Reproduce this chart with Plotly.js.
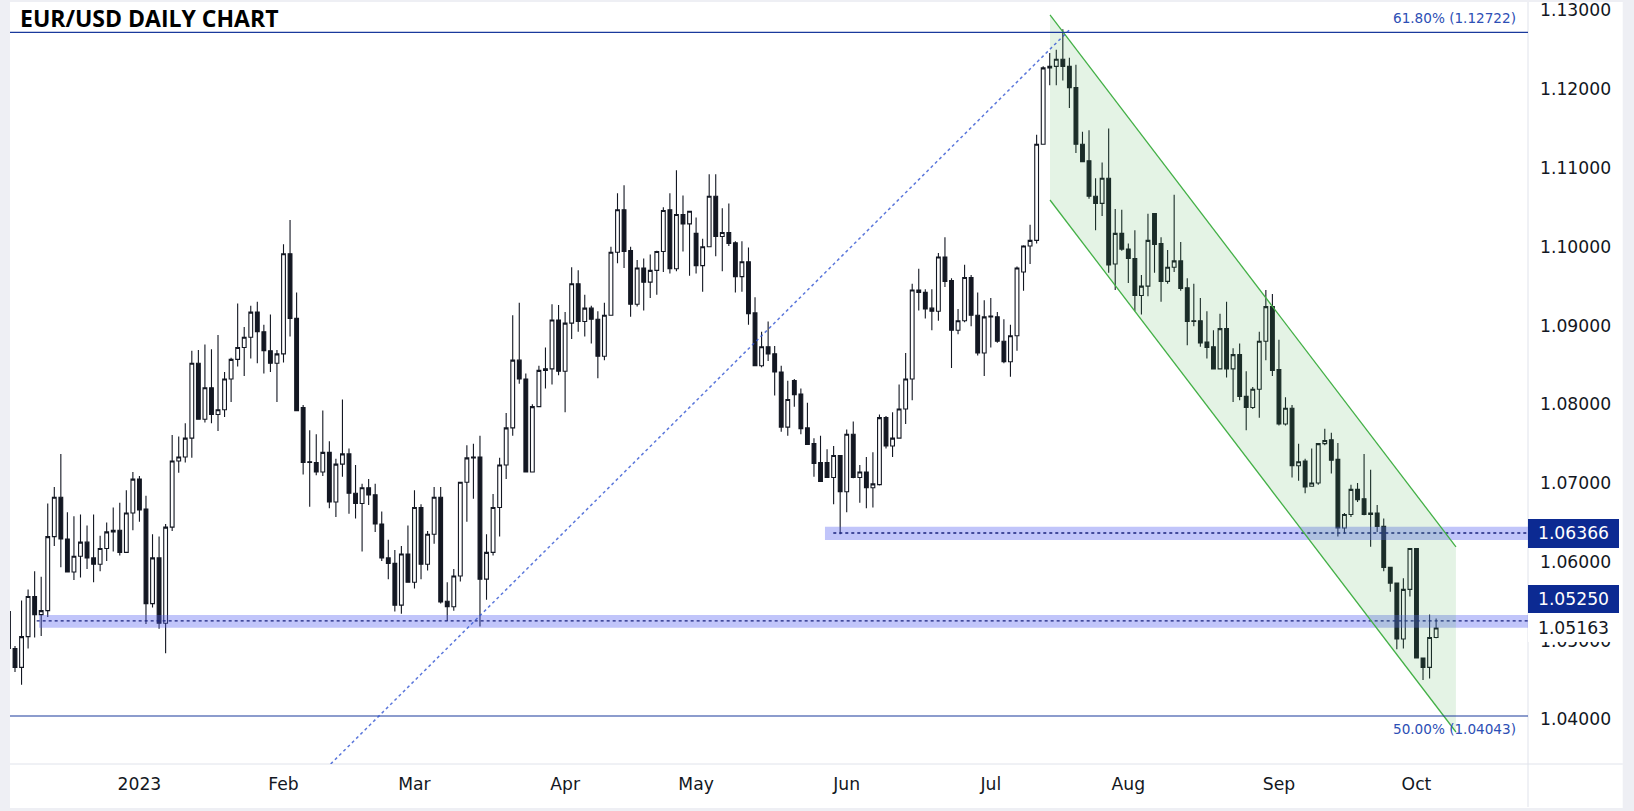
<!DOCTYPE html>
<html>
<head>
<meta charset="utf-8">
<script src="https://cdn.plot.ly/plotly-3.0.1.min.js"></script>
<style>html,body{margin:0;padding:0;background:#eeeff4;}#chart{width:1634px;height:811px;}</style>
</head>
<body>
<div id="chart"></div>
<script>
// ---- DATA (EUR/USD daily) ----
const firstDay = '2022-12-05';
const open = [1.0537,
1.0490,1.0466,1.0505,1.0556,1.0533,1.0538,1.0632,1.0682,1.0629,1.0587,
1.0607,1.0625,1.0605,1.0597,1.0617,1.0638,1.0640,1.0612,1.0662,1.0705,
1.0667,1.0547,1.0605,1.0522,1.0644,1.0728,1.0733,1.0757,1.0852,1.0781,
1.0821,1.0787,1.0793,1.0832,1.0857,1.0872,1.0885,1.0917,1.0892,1.0868,
1.0852,1.0864,1.0991,1.0909,1.0796,1.0727,1.0726,1.0714,1.0739,1.0676,
1.0724,1.0737,1.0687,1.0674,1.0694,1.0685,1.0648,1.0605,1.0598,1.0545,
1.0610,1.0574,1.0669,1.0597,1.0635,1.0682,1.0550,1.0543,1.0582,1.0701,
1.0733,1.0733,1.0578,1.0612,1.0669,1.0723,1.0770,1.0856,1.0832,1.0714,
1.0797,1.0845,1.0845,1.0907,1.0842,1.0903,1.0953,1.0905,1.0922,1.0908,
1.0861,1.0913,1.0993,1.1047,1.0995,1.0927,1.0973,1.0955,1.0970,1.0994,
1.1047,1.0972,1.1041,1.1029,1.1017,1.0976,1.1000,1.1064,1.1013,1.1018,
1.1005,1.0962,1.0981,1.0916,1.0849,1.0873,1.0864,1.0841,1.0771,1.0830,
1.0813,1.0770,1.0750,1.0726,1.0726,1.0707,1.0735,1.0689,1.0762,1.0707,
1.0714,1.0694,1.0698,1.0783,1.0747,1.0757,1.0794,1.0832,1.0945,1.0942,
1.0922,1.0918,1.0987,1.0957,1.0894,1.0906,1.0961,1.0913,1.0865,1.0912,
1.0911,1.0880,1.0854,1.0887,1.0968,1.1001,1.1008,1.1130,1.1227,1.1229,
1.1238,1.1229,1.1202,1.1130,1.1109,1.1064,1.1055,1.1087,1.0978,1.1017,
1.0997,1.0985,1.0938,1.0950,1.1042,1.1004,1.0956,1.0974,1.0982,1.0948,
1.0906,1.0906,1.0879,1.0873,1.0845,1.0896,1.0845,1.0863,1.0810,1.0796,
1.0819,1.0880,1.0924,1.0844,1.0775,1.0795,1.0722,1.0728,1.0696,1.0700,
1.0750,1.0755,1.0730,1.0643,1.0660,1.0692,1.0680,1.0662,1.0662,1.0645,
1.0593,1.0573,1.0502,1.0565,1.0617,1.0478,1.0466,1.0504];
const high = [1.0595,
1.0493,1.0551,1.0565,1.0588,1.0581,1.0674,1.0695,1.0737,1.0663,1.0658,
1.0660,1.0646,1.0660,1.0633,1.0650,1.0669,1.0675,1.0691,1.0714,1.0709,
1.0684,1.0635,1.0632,1.0648,1.0761,1.0759,1.0776,1.0868,1.0869,1.0876,
1.0870,1.0888,1.0841,1.0859,1.0928,1.0898,1.0925,1.0930,1.0901,1.0914,
1.0869,1.1003,1.1034,1.0942,1.0799,1.0767,1.0762,1.0792,1.0753,1.0731,
1.0806,1.0744,1.0723,1.0699,1.0705,1.0699,1.0664,1.0628,1.0615,1.0620,
1.0646,1.0691,1.0673,1.0639,1.0695,1.0695,1.0574,1.0591,1.0701,1.0748,
1.0750,1.0760,1.0635,1.0686,1.0732,1.0789,1.0913,1.0929,1.0839,1.0800,
1.0849,1.0872,1.0927,1.0926,1.0917,1.0974,1.0970,1.0939,1.0925,1.0918,
1.0929,1.1000,1.1068,1.1078,1.1000,1.0983,1.0985,1.0990,1.0995,1.1050,
1.1068,1.1097,1.1065,1.1045,1.1037,1.1010,1.1092,1.1092,1.1049,1.1055,
1.1007,1.1007,1.0999,1.0936,1.0892,1.0905,1.0874,1.0849,1.0830,1.0832,
1.0820,1.0802,1.0757,1.0760,1.0743,1.0747,1.0735,1.0768,1.0778,1.0723,
1.0733,1.0739,1.0787,1.0785,1.0790,1.0825,1.0865,1.0953,1.0972,1.0946,
1.0946,1.0992,1.1012,1.0960,1.0921,1.0977,1.0964,1.0942,1.0932,1.0935,
1.0917,1.0908,1.0901,1.0975,1.1002,1.1028,1.1142,1.1229,1.1246,1.1250,
1.1276,1.1240,1.1231,1.1146,1.1148,1.1087,1.1107,1.1150,1.1048,1.1047,
1.1004,1.1021,1.0964,1.1042,1.1042,1.1012,1.0996,1.1066,1.1006,1.0960,
1.0953,1.0935,1.0918,1.0894,1.0915,1.0930,1.0871,1.0877,1.0842,1.0822,
1.0892,1.0945,1.0940,1.0882,1.0809,1.0799,1.0750,1.0731,1.0744,1.0751,
1.0769,1.0764,1.0751,1.0662,1.0698,1.0700,1.0737,1.0717,1.0672,1.0655,
1.0593,1.0573,1.0579,1.0617,1.0617,1.0478,1.0533,1.0528];
const low = [1.0485,
1.0460,1.0444,1.0490,1.0504,1.0506,1.0530,1.0620,1.0593,1.0587,1.0577,
1.0580,1.0591,1.0574,1.0588,1.0601,1.0613,1.0608,1.0612,1.0640,1.0651,
1.0521,1.0542,1.0515,1.0484,1.0639,1.0713,1.0726,1.0732,1.0781,1.0777,
1.0776,1.0766,1.0784,1.0803,1.0848,1.0836,1.0858,1.0852,1.0839,1.0841,
1.0803,1.0853,1.0886,1.0792,1.0711,1.0670,1.0710,1.0709,1.0668,1.0657,
1.0708,1.0661,1.0655,1.0613,1.0672,1.0638,1.0601,1.0578,1.0537,1.0534,
1.0574,1.0566,1.0578,1.0589,1.0623,1.0547,1.0525,1.0538,1.0575,1.0651,
1.0680,1.0518,1.0552,1.0608,1.0632,1.0705,1.0760,1.0826,1.0714,1.0714,
1.0797,1.0820,1.0825,1.0837,1.0790,1.0883,1.0892,1.0886,1.0877,1.0833,
1.0856,1.0913,1.0979,1.0973,1.0911,1.0924,1.0919,1.0935,1.0939,1.0968,
1.0966,1.0969,1.0994,1.0963,1.0966,1.0943,1.1000,1.0988,1.0969,1.1001,
1.0942,1.0943,1.0901,1.0849,1.0847,1.0855,1.0811,1.0765,1.0760,1.0797,
1.0762,1.0749,1.0708,1.0702,1.0707,1.0673,1.0635,1.0663,1.0706,1.0675,
1.0668,1.0669,1.0697,1.0744,1.0733,1.0757,1.0775,1.0805,1.0919,1.0909,
1.0894,1.0906,1.0949,1.0846,1.0889,1.0904,1.0899,1.0862,1.0836,1.0872,
1.0878,1.0852,1.0835,1.0868,1.0944,1.0978,1.1004,1.1130,1.1205,1.1205,
1.1211,1.1176,1.1119,1.1108,1.1061,1.1021,1.1039,1.0967,1.0945,1.0995,
1.0954,1.0918,1.0914,1.0937,1.0967,1.0930,1.0953,1.0968,1.0944,1.0875,
1.0899,1.0873,1.0858,1.0845,1.0845,1.0834,1.0803,1.0805,1.0767,1.0794,
1.0783,1.0856,1.0836,1.0773,1.0773,1.0707,1.0703,1.0687,1.0696,1.0698,
1.0748,1.0712,1.0632,1.0636,1.0657,1.0676,1.0659,1.0619,1.0638,1.0588,
1.0562,1.0489,1.0490,1.0556,1.0478,1.0450,1.0452,1.0503];
const close = [1.0490,
1.0466,1.0505,1.0556,1.0533,1.0538,1.0632,1.0682,1.0629,1.0587,1.0607,
1.0625,1.0605,1.0597,1.0617,1.0638,1.0640,1.0612,1.0662,1.0705,1.0666,
1.0547,1.0605,1.0522,1.0644,1.0728,1.0733,1.0757,1.0852,1.0781,1.0821,
1.0787,1.0793,1.0832,1.0857,1.0872,1.0885,1.0917,1.0892,1.0868,1.0852,
1.0864,1.0991,1.0909,1.0792,1.0726,1.0726,1.0714,1.0739,1.0676,1.0724,
1.0737,1.0687,1.0674,1.0694,1.0685,1.0648,1.0605,1.0598,1.0545,1.0610,
1.0574,1.0669,1.0597,1.0635,1.0682,1.0549,1.0543,1.0582,1.0701,1.0732,
1.0732,1.0578,1.0612,1.0669,1.0723,1.0770,1.0856,1.0832,1.0714,1.0797,
1.0843,1.0843,1.0907,1.0842,1.0903,1.0953,1.0905,1.0922,1.0908,1.0861,
1.0913,1.0993,1.1047,1.0994,1.0927,1.0973,1.0955,1.0970,1.0994,1.1046,
1.0972,1.1041,1.1029,1.1045,1.0976,1.1000,1.1064,1.1013,1.1018,1.1004,
1.0962,1.0981,1.0915,1.0849,1.0873,1.0864,1.0841,1.0771,1.0806,1.0812,
1.0769,1.0749,1.0725,1.0702,1.0707,1.0735,1.0689,1.0762,1.0707,1.0714,
1.0694,1.0699,1.0783,1.0747,1.0757,1.0794,1.0832,1.0945,1.0942,1.0921,
1.0918,1.0987,1.0956,1.0894,1.0906,1.0961,1.0913,1.0865,1.0911,1.0911,
1.0880,1.0854,1.0887,1.0973,1.1001,1.1008,1.1130,1.1227,1.1229,1.1238,
1.1229,1.1202,1.1130,1.1108,1.1064,1.1055,1.1087,1.0977,1.1017,1.0997,
1.0985,1.0938,1.0950,1.1008,1.1003,1.0956,1.0974,1.0982,1.0947,1.0905,
1.0905,1.0878,1.0872,1.0845,1.0896,1.0845,1.0863,1.0810,1.0796,1.0819,
1.0880,1.0924,1.0843,1.0775,1.0795,1.0722,1.0727,1.0695,1.0700,1.0750,
1.0754,1.0729,1.0643,1.0660,1.0692,1.0679,1.0660,1.0660,1.0645,1.0593,
1.0573,1.0502,1.0565,1.0617,1.0478,1.0466,1.0504,1.0516];

const monthTickDates = ['2023-01-02','2023-02-01','2023-03-01','2023-04-03','2023-05-01','2023-06-01','2023-07-03','2023-08-01','2023-09-01','2023-10-02'];
const monthTickText = ['2023','Feb','Mar','Apr','May','Jun','Jul','Aug','Sep','Oct'];
const priceTicks = [1.04,1.05,1.06,1.07,1.08,1.09,1.10,1.11,1.12,1.13];
const supportLevels = [1.06366, 1.0525];
const lastPrice = 1.05163;
const fibLevels = [1.12722, 1.04043];
const fibLabels = ['61.80% (1.12722)', '50.00% (1.04043)'];

// trading-day calendar (weekdays) for the category axis
function tradingDays(start, n) {
  const out = [];
  const d = new Date(start + 'T00:00:00Z');
  while (out.length < n) {
    const w = d.getUTCDay();
    if (w !== 0 && w !== 6) out.push(d.toISOString().slice(0, 10));
    d.setUTCDate(d.getUTCDate() + 1);
  }
  return out;
}
const dates = tradingDays(firstDay, open.length);

const INK = '#131722';
const FONT = 'DejaVu Sans, Verdana, sans-serif';
const AXFS = 17.2;

const trace = {
  type: 'candlestick',
  x: dates, open: open, high: high, low: low, close: close,
  increasing: {line: {color: INK, width: 1.1}, fillcolor: '#ffffff'},
  decreasing: {line: {color: INK, width: 1.1}, fillcolor: INK},
  whiskerwidth: 0,
  hoverinfo: 'none'
};

const XR = [0.237, 232.03];
const YR = [1.034336, 1.131066];

const bandColor = 'rgba(84,94,240,0.36)';
const dotColor = '#1a237e';
const green = '#43b046';

const shapes = [
  {type:'rect', xref:'paper', yref:'paper', x0:0, x1:1.0624, y0:-0.0577, y1:1, fillcolor:'#ffffff', line:{width:0}, layer:'below'},
  {type:'line', xref:'paper', yref:'paper', x0:1, x1:1, y0:-0.0564, y1:1, line:{color:'#e0e3eb', width:1}, layer:'below'},
  {type:'line', xref:'paper', yref:'paper', x0:0, x1:1.0624, y0:0, y1:0, line:{color:'#e0e3eb', width:1}, layer:'below'},
  {type:'rect', xref:'x', yref:'y', x0:4.665, x1:XR[1], y0:1.05164, y1:1.05326, fillcolor:bandColor, line:{width:0}, layer:'above'},
  {type:'rect', xref:'x', yref:'y', x0:124.68, x1:XR[1], y0:1.06277, y1:1.06445, fillcolor:bandColor, line:{width:0}, layer:'above'},
  {type:'line', xref:'x', yref:'y', x0:4.31, x1:XR[1], y0:supportLevels[1], y1:supportLevels[1], line:{color:dotColor, width:1.4, dash:'dot'}, layer:'above'},
  {type:'line', xref:'x', yref:'y', x0:125.95, x1:XR[1], y0:supportLevels[0], y1:supportLevels[0], line:{color:dotColor, width:1.4, dash:'dot'}, layer:'above'},
  {type:'path', xref:'x', yref:'y', path:'M159.04,1.12942 L221.03,1.06190 L221.03,1.03840 L159.04,1.10593 Z', fillcolor:'rgba(76,175,80,0.15)', line:{width:0}, layer:'above'},
  {type:'line', xref:'x', yref:'y', x0:159.04, y0:1.12942, x1:221.03, y1:1.06190, line:{color:green, width:1.3}, layer:'above'},
  {type:'line', xref:'x', yref:'y', x0:159.04, y0:1.10593, x1:221.03, y1:1.03840, line:{color:green, width:1.3}, layer:'above'},
  {type:'line', xref:'paper', yref:'y', x0:0, x1:1, y0:fibLevels[0], y1:fibLevels[0], line:{color:'#1a3a9c', width:1.2}, layer:'above'},
  {type:'line', xref:'paper', yref:'y', x0:0, x1:1, y0:fibLevels[1], y1:fibLevels[1], line:{color:'#1a3a9c', width:1.2}, layer:'above'},
  {type:'line', xref:'x', yref:'y', x0:49.2, y0:1.034336, x1:161.99, y1:1.12751, line:{color:'rgba(50,85,210,0.8)', width:1.5, dash:'dot'}, layer:'above'}
];

const annotations = [
  {xref:'paper', yref:'paper', x:0.0066, y:0.9786, xanchor:'left', yanchor:'middle', showarrow:false,
   text:'<b>EUR/USD DAILY CHART</b>', font:{family:'Open Sans, sans-serif', size:23, color:'#000'}, borderpad:0, borderwidth:0},
  {xref:'paper', yref:'y', x:0.99341, y:fibLevels[0], xanchor:'right', yanchor:'bottom', yshift:4, showarrow:false,
   text:fibLabels[0], font:{family:FONT, size:13.6, color:'#2d4fb5'}},
  {xref:'paper', yref:'y', x:0.99341, y:fibLevels[1], xanchor:'right', yanchor:'top', yshift:-3, showarrow:false,
   text:fibLabels[1], font:{family:FONT, size:13.6, color:'#2d4fb5'}},
  {xref:'paper', yref:'y', x:1, y:supportLevels[0], xanchor:'left', yanchor:'middle', showarrow:false,
   text:supportLevels[0].toFixed(5), bgcolor:'#0c2a92', width:91, height:28.7, borderpad:0, borderwidth:0, align:'center',
   font:{family:FONT, size:AXFS, color:'#ffffff'}},
  {xref:'paper', yref:'y', x:1, y:1.05526, xanchor:'left', yanchor:'middle', showarrow:false,
   text:supportLevels[1].toFixed(5), bgcolor:'#0c2a92', width:91, height:28.3, borderpad:0, borderwidth:0, align:'center',
   font:{family:FONT, size:AXFS, color:'#ffffff'}},
  {xref:'paper', yref:'y', x:1, y:lastPrice, xanchor:'left', yanchor:'middle', showarrow:false,
   text:lastPrice.toFixed(5), bgcolor:'#ffffff', width:91, height:29, borderpad:0, borderwidth:0, align:'center',
   font:{family:FONT, size:AXFS, color:INK}}
];

const layout = {
  width: 1634, height: 811,
  margin: {l:10, r:106, t:2, b:47, pad:0},
  paper_bgcolor: '#eeeff4',
  plot_bgcolor: '#ffffff',
  showlegend: false,
  dragmode: false,
  boxgap: 0.24,
  boxgroupgap: 0.24,
  xaxis: {
    type:'category', range: XR, autorange:false,
    tickmode:'array', tickvals: monthTickDates, ticktext: monthTickText,
    showgrid:false, zeroline:false, showline:false, ticks:'',
    ticklabelstandoff: 8,
    tickfont:{family:FONT, size:AXFS, color:INK},
    rangeslider:{visible:false}, fixedrange:true
  },
  yaxis: {
    side:'right', range: YR, autorange:false,
    tickmode:'array', tickvals: priceTicks, tickformat:'.5f',
    showgrid:false, zeroline:false, showline:false, ticks:'',
    ticklabelstandoff: 11,
    tickfont:{family:FONT, size:AXFS, color:INK},
    fixedrange:true
  },
  shapes: shapes,
  annotations: annotations
};

Plotly.newPlot('chart', [trace], layout, {displayModeBar:false, staticPlot:true});
</script>
</body>
</html>
